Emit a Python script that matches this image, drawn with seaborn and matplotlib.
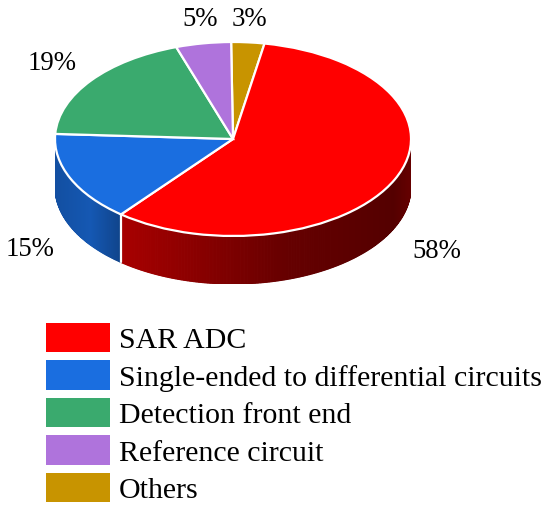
import numpy as np
import matplotlib.pyplot as plt
import matplotlib.colors as mcolors
from matplotlib.patches import Patch
import seaborn as sns

labels = ['Others', 'SAR ADC', 'Single-ended to differential circuits', 'Detection front end', 'Reference circuit']
shares = [3, 58, 15, 19, 5]
pct_labels = ['3%', '58%', '15%', '19%', '5%']
colors = ['#c89400', '#ff0000', '#1a6ee0', '#3aaa6e', '#af73dc']
legend_order = [1, 2, 3, 4, 0]

W, H = 550, 510
depth = 0.495
start = 90.6

sns.set_theme(style='white')
plt.rcParams['font.family'] = ['Liberation Serif', 'DejaVu Serif']

fig = plt.figure(figsize=(W / 100, H / 100), dpi=100)
# top ellipse is 356 x 194 px, side adds 48 px underneath
ax = fig.add_axes([55 / W, 1 - 285 / H, 356 / W, 242 / H])

fractions = np.array(shares) / sum(shares)
edges = start - 360 * np.concatenate([[0], np.cumsum(fractions)])

# side wall shading, brightness against x on the unit circle
shade_x = {'#ff0000': [-0.63, 0.3, 0.9, 1.0], '#1a6ee0': [-1.0, -0.8, -0.63]}
shade_v = {'#ff0000': [0.66, 0.40, 0.33, 0.40], '#1a6ee0': [0.72, 0.80, 0.62]}

for i, color in enumerate(colors):
    if color not in shade_x:
        continue
    a = np.radians(np.arange(edges[i], edges[i + 1], -0.5))
    a = np.append(a, np.radians(edges[i + 1]))
    x = np.cos(a)
    y = np.sin(a)
    front = y < 0.02
    x, y = x[front], y[front]
    base = np.array(mcolors.to_rgb(color))
    for j in range(len(x) - 1):
        c = base * np.interp(x[j], shade_x[color], shade_v[color])
        ax.fill([x[j], x[j + 1], x[j + 1], x[j]],
                [y[j], y[j + 1], y[j + 1] - depth, y[j] - depth],
                facecolor=c, edgecolor=c, lw=0.8, zorder=1)

# white seam at the SAR / blue boundary
bx = np.cos(np.radians(edges[2]))
by = np.sin(np.radians(edges[2]))
ax.plot([bx, bx], [by, by - depth], color='white', lw=1.6, zorder=2)

wedges, _ = ax.pie(shares, colors=colors, startangle=start, counterclock=False, radius=1,
                   wedgeprops={'edgecolor': 'white', 'linewidth': 1.6, 'zorder': 3})
ax.set_aspect('auto')
ax.set_xlim(-1, 1)
ax.set_ylim(-1 - depth, 1)
ax.axis('off')

label_px = [(249, 20), (437, 252), (30, 250), (52, 63), (200, 20)]
for txt, (px, py) in zip(pct_labels, label_px):
    fig.text(px / W, 1 - py / H, txt, fontsize=19.3, color='black', ha='center', va='center')

handles = [Patch(facecolor=colors[i], edgecolor='none', label=labels[i]) for i in legend_order]
fig.legend(handles=handles, loc='upper left', bbox_to_anchor=(46 / W, 1 - 323.5 / H), frameon=False,
           fontsize=21.5, handlelength=2.15, handleheight=1.15, handletextpad=0.3, labelspacing=0.22,
           borderpad=0, borderaxespad=0, labelcolor='black')

fig.savefig('out.png', dpi=100)
